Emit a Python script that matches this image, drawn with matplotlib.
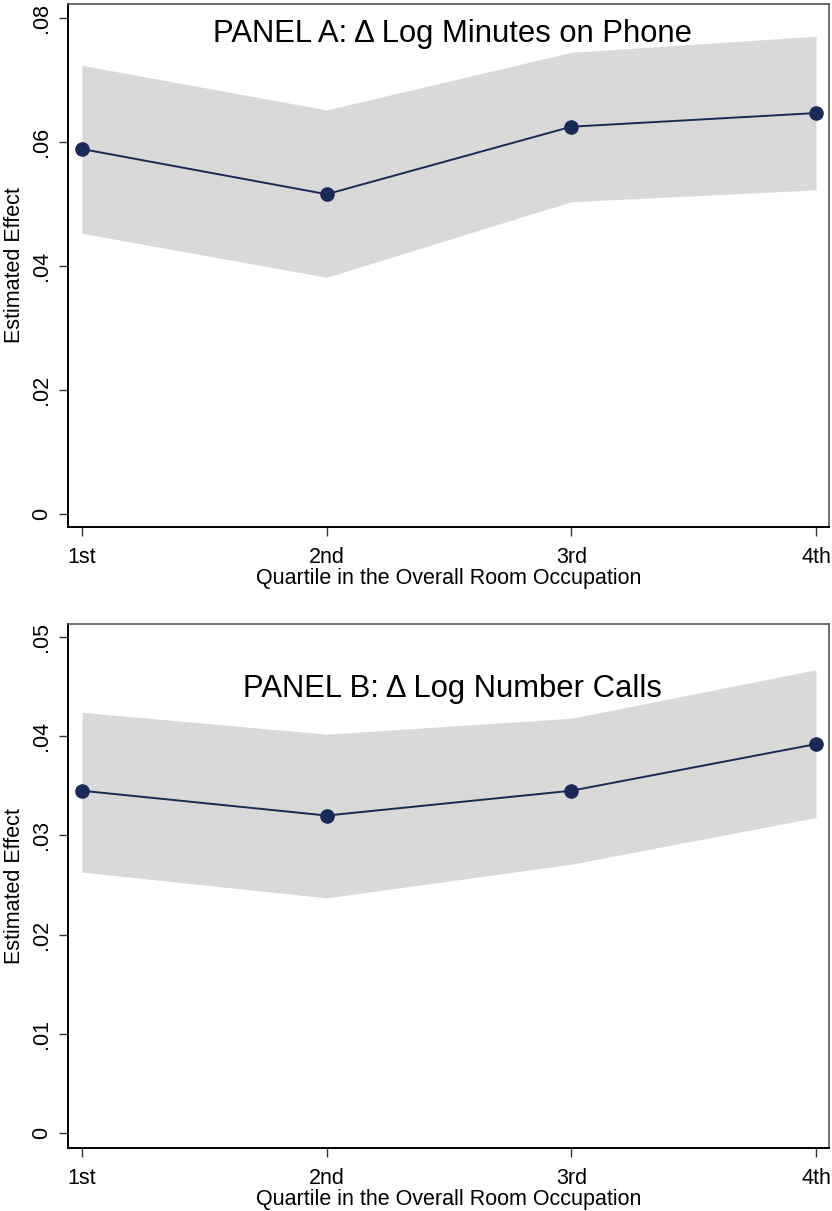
import matplotlib
matplotlib.use("Agg")
import matplotlib.pyplot as plt

plt.rcParams["font.family"] = ["Liberation Sans", "DejaVu Sans"]

quartiles = [1, 2, 3, 4]
quartile_labels = ["1st", "2nd", "3rd", "4th"]

# Panel A: delta log minutes on phone
minutes_est = [0.0589, 0.0516, 0.0625, 0.0647]
minutes_hi = [0.0724, 0.0652, 0.0745, 0.0771]
minutes_lo = [0.0453, 0.0382, 0.0504, 0.0523]

# Panel B: delta log number of calls
calls_est = [0.0345, 0.0320, 0.0345, 0.0392]
calls_hi = [0.0424, 0.0402, 0.0418, 0.0467]
calls_lo = [0.0263, 0.0237, 0.0271, 0.0318]

minutes_ticks = [0, 0.02, 0.04, 0.06, 0.08]
minutes_ticklabels = ["0", ".02", ".04", ".06", ".08"]
calls_ticks = [0, 0.01, 0.02, 0.03, 0.04, 0.05]
calls_ticklabels = ["0", ".01", ".02", ".03", ".04", ".05"]

NAVY = "#1a2a56"
BAND = "#d9d9d9"
FS = 15.5

W, H = 832, 1211
fig = plt.figure(figsize=(W / 100, H / 100), dpi=100)


def panel(box, est, lo, hi, ticks, ticklabels, ylim, title, title_y):
    left, top, right, bottom = box
    ax = fig.add_axes([left / W, 1 - bottom / H, (right - left) / W, (bottom - top) / H])
    ax.fill_between(quartiles, lo, hi, color=BAND, linewidth=0, zorder=1)
    ax.plot(quartiles, est, color=NAVY, lw=1.4, marker="o", ms=9.5, zorder=3)
    ax.set_xlim(0.943, 4.053)
    ax.set_ylim(*ylim)
    ax.set_xticks(quartiles)
    ax.set_xticklabels(quartile_labels, fontsize=FS)
    ax.set_yticks(ticks)
    ax.set_yticklabels(ticklabels, fontsize=FS, rotation=90, va="center")
    ax.tick_params(direction="out", length=6.5, width=1, color="#333333")
    ax.tick_params(axis="x", pad=8)
    ax.tick_params(axis="y", pad=5)
    ax.set_xlabel("Quartile in the Overall Room Occupation", fontsize=FS, labelpad=0)
    ax.set_ylabel("Estimated Effect", fontsize=FS, labelpad=4)
    for side in ("left", "bottom"):
        ax.spines[side].set_color("black")
        ax.spines[side].set_linewidth(1.4)
    for side in ("top", "right"):
        ax.spines[side].set_color("#555555")
        ax.spines[side].set_linewidth(1.2)
    ax.text(0.505, title_y, title, transform=ax.transAxes, ha="center", va="center",
            fontsize=22.3)
    return ax


panel((68, 4, 829, 527), minutes_est, minutes_lo, minutes_hi,
      minutes_ticks, minutes_ticklabels, (-0.0021, 0.0823),
      "PANEL A: Δ Log Minutes on Phone", 0.943)
panel((68, 624, 829, 1148), calls_est, calls_lo, calls_hi,
      calls_ticks, calls_ticklabels, (-0.0015, 0.0513),
      "PANEL B: Δ Log Number Calls", 0.875)

fig.savefig("out.png", dpi=100)
